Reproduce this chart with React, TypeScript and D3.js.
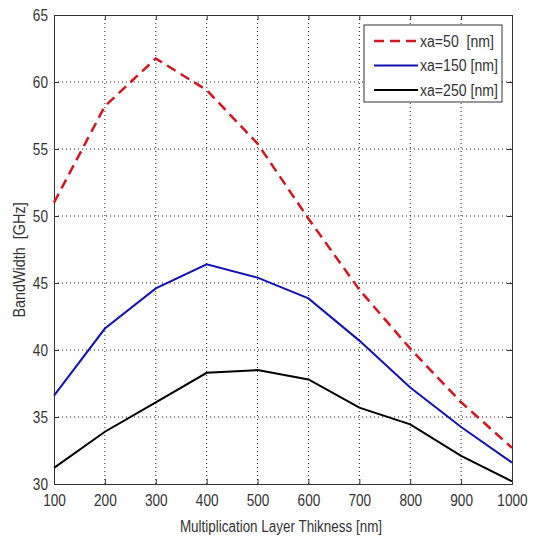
import React, { useEffect, useRef } from 'react';
import * as d3 from 'd3';

const thickness = [100, 200, 300, 400, 500, 600, 700, 800, 900, 1000];
const xa50 = [51.0, 58.2, 61.75, 59.4, 55.4, 49.8, 44.5, 40.1, 36.1, 32.7];
const xa150 = [36.6, 41.6, 44.6, 46.4, 45.4, 43.85, 40.7, 37.2, 34.25, 31.6];
const xa250 = [31.2, 33.9, 36.1, 38.3, 38.5, 37.8, 35.7, 34.45, 32.1, 30.2];
const seriesNames = ['xa=50  [nm]', 'xa=150 [nm]', 'xa=250 [nm]'];
const yTicks = [30, 35, 40, 45, 50, 55, 60, 65];

const W = 536;
const H = 536;
const left = 54, right = 512, top = 15, bottom = 484;
const font = '"Liberation Sans", Arial, sans-serif';

// squeeze text horizontally, the reference uses a narrow font
const squeeze = (sel: any, f: number) => {
  sel.each(function (this: SVGTextElement) {
    const len = this.getComputedTextLength();
    if (len > 0) {
      d3.select(this).attr('textLength', len * f).attr('lengthAdjust', 'spacingAndGlyphs');
    }
  });
};

const App = () => {
  const ref = useRef<SVGSVGElement>(null);

  useEffect(() => {
    const svg = d3.select(ref.current);
    svg.selectAll('*').remove();

    const x = d3.scaleLinear().domain([100, 1000]).range([left, right]);
    const y = d3.scaleLinear().domain([30, 65]).range([bottom, top]);

    svg.append('rect').attr('width', W).attr('height', H).attr('fill', '#fff');

    // grid
    const grid = svg.append('g').attr('stroke', '#222').attr('stroke-width', 1).attr('stroke-dasharray', '1,3');
    grid.selectAll('.gx').data(thickness.slice(1, -1)).enter().append('line')
      .attr('x1', d => x(d)).attr('x2', d => x(d)).attr('y1', top).attr('y2', bottom);
    grid.selectAll('.gy').data(yTicks.slice(1, -1)).enter().append('line')
      .attr('y1', d => y(d)).attr('y2', d => y(d)).attr('x1', left).attr('x2', right);

    // axes
    const ax = svg.append('g').attr('transform', `translate(0,${bottom})`)
      .call(d3.axisBottom(x).tickValues(thickness).tickSize(-5).tickPadding(10).tickFormat(d3.format('d')));
    const ay = svg.append('g').attr('transform', `translate(${left},0)`)
      .call(d3.axisLeft(y).tickValues(yTicks).tickSize(-5).tickPadding(6));
    svg.append('g').attr('transform', `translate(0,${top})`)
      .call(d3.axisTop(x).tickValues(thickness).tickSize(-5).tickFormat(() => ''));
    svg.append('g').attr('transform', `translate(${right},0)`)
      .call(d3.axisRight(y).tickValues(yTicks).tickSize(-5).tickFormat(() => ''));
    svg.selectAll('.domain').attr('stroke', '#333');
    svg.selectAll('.tick line').attr('stroke', '#333');
    [ax, ay].forEach(g => {
      const t = g.selectAll('text').attr('font-family', font).attr('font-size', 17).attr('fill', '#333');
      squeeze(t, 0.8);
    });

    const line = d3.line<number>().x((_, i) => x(thickness[i])).y(d => y(d));
    const styles = [
      { data: xa50, color: '#d4141e', width: 2.5, dash: '10,6' },
      { data: xa150, color: '#1212b4', width: 2, dash: null },
      { data: xa250, color: '#000', width: 2, dash: null },
    ];
    styles.forEach(s => {
      svg.append('path').attr('d', line(s.data)).attr('fill', 'none')
        .attr('stroke', s.color).attr('stroke-width', s.width)
        .attr('stroke-dasharray', s.dash);
    });

    // legend
    const lg = svg.append('g');
    lg.append('rect').attr('x', 364).attr('y', 25).attr('width', 138).attr('height', 77)
      .attr('fill', '#fff').attr('stroke', '#333').attr('stroke-width', 1);
    styles.forEach((s, i) => {
      const yy = 41 + i * 24.5;
      lg.append('line').attr('x1', 374).attr('x2', 418).attr('y1', yy).attr('y2', yy)
        .attr('stroke', s.color).attr('stroke-width', s.width).attr('stroke-dasharray', s.dash);
      const t = lg.append('text').attr('x', 420).attr('y', yy).attr('dy', '0.35em')
        .attr('font-family', font).attr('font-size', 16).attr('fill', '#333')
        .attr('xml:space', 'preserve').text(seriesNames[i]);
      squeeze(t, 0.88);
    });

    const xl = svg.append('text').attr('x', 281).attr('y', 532).attr('text-anchor', 'middle')
      .attr('font-family', font).attr('font-size', 16).attr('fill', '#333')
      .text('Multiplication Layer Thikness [nm]');
    squeeze(xl, 0.84);
    const yl = svg.append('text').attr('transform', `translate(25,260) rotate(-90)`)
      .attr('text-anchor', 'middle').attr('font-family', font).attr('font-size', 16).attr('fill', '#333')
      .attr('xml:space', 'preserve').text('BandWidth  [GHz]');
    squeeze(yl, 0.9);
  }, []);

  return <svg ref={ref} width={W} height={H} style={{ position: 'absolute', left: 0, top: 0 }} />;
};

export default App;
